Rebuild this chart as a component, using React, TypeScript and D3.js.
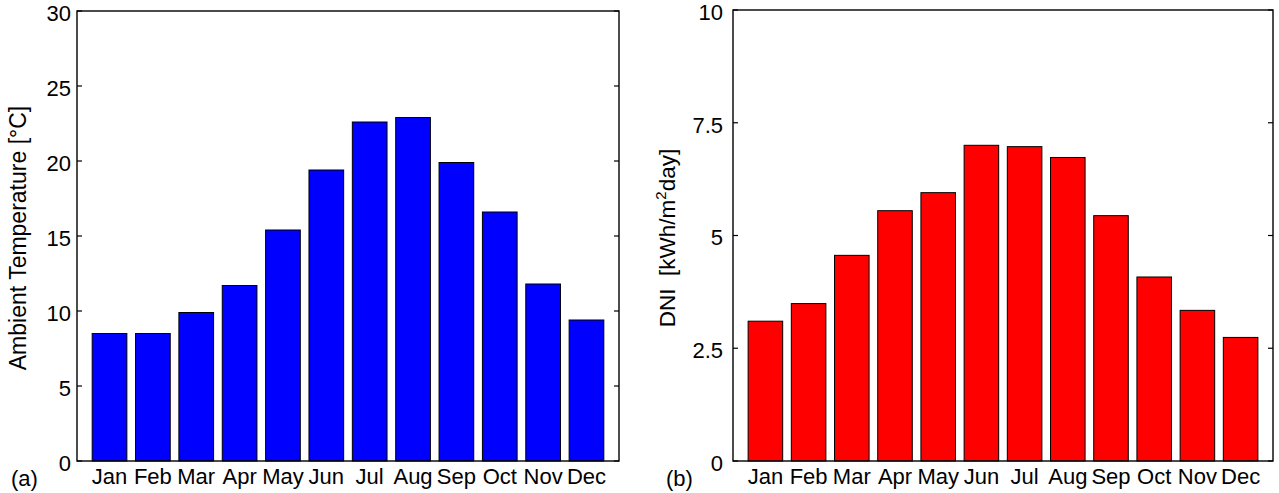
import React from "react";
import * as d3 from "d3";

const months = ["Jan", "Feb", "Mar", "Apr", "May", "Jun", "Jul", "Aug", "Sep", "Oct", "Nov", "Dec"];
const temperature = [8.5, 8.5, 9.9, 11.7, 15.4, 19.4, 22.6, 22.9, 19.9, 16.6, 11.8, 9.4];
const dni = [3.1, 3.49, 4.56, 5.55, 5.95, 7.0, 6.97, 6.73, 5.44, 4.08, 3.34, 2.74];
const tempTicks = [0, 5, 10, 15, 20, 25, 30];
const dniTicks = [0, 2.5, 5, 7.5, 10];

const FONT = "'Liberation Sans', Arial, sans-serif";

type PanelProps = {
  left: number;
  right: number;
  top: number;
  bottom: number;
  values: number[];
  yMax: number;
  ticks: number[];
  color: string;
  tag: string;
  tagX: number;
  tickGap: number;
  labelX: number;
  labelY: number;
  labelSize: number;
  label: React.ReactNode;
};

function Panel(p: PanelProps) {
  const { left, right, top, bottom, values, yMax, ticks, color } = p;
  const x = d3.scaleLinear().domain([0.25, 12.75]).range([left, right]);
  const y = d3.scaleLinear().domain([0, yMax]).range([bottom, top]);
  const bw = x(0.8) - x(0);
  const tickLen = 5;

  return (
    <g>
      {values.map((v, i) => (
        <rect
          key={months[i]}
          x={x(i + 1) - bw / 2}
          y={y(v)}
          width={bw}
          height={y(0) - y(v)}
          fill={color}
          stroke="#000"
          strokeWidth={1}
        />
      ))}
      <rect x={left} y={top} width={right - left} height={bottom - top} fill="none" stroke="#000" strokeWidth={1.4} />
      {ticks.map((t) => (
        <g key={t}>
          <line x1={left} x2={left + tickLen} y1={y(t)} y2={y(t)} stroke="#000" strokeWidth={1.2} />
          <line x1={right} x2={right - tickLen} y1={y(t)} y2={y(t)} stroke="#000" strokeWidth={1.2} />
          <text x={left - p.tickGap} y={y(t) + 2} dy="0.36em" textAnchor="end" fontSize={22} fontFamily={FONT}>
            {String(t)}
          </text>
        </g>
      ))}
      {months.map((m, i) => (
        <text key={m} x={x(i + 1)} y={484} textAnchor="middle" fontSize={22} fontFamily={FONT}>
          {m}
        </text>
      ))}
      <text x={p.tagX} y={486} fontSize={22} fontFamily={FONT}>
        {p.tag}
      </text>
      <text
        transform={`translate(${p.labelX},${p.labelY}) rotate(-90)`}
        textAnchor="middle"
        fontSize={p.labelSize}
        fontFamily={FONT}
      >
        {p.label}
      </text>
    </g>
  );
}

export default function App() {
  return (
    <div style={{ position: "absolute", left: 0, top: 0 }}>
      <svg width={1279} height={493} style={{ display: "block", background: "#fff" }}>
        <Panel
          left={77}
          right={619}
          top={11}
          bottom={461}
          values={temperature}
          yMax={30}
          ticks={tempTicks}
          color="#0000ff"
          tag="(a)"
          tagX={11}
          tickGap={6}
          labelX={26}
          labelY={238}
          labelSize={23}
          label="Ambient Temperature [°C]"
        />
        <Panel
          left={733}
          right={1273}
          top={10}
          bottom={461}
          values={dni}
          yMax={10}
          ticks={dniTicks}
          color="#ff0000"
          tag="(b)"
          tagX={666}
          tickGap={10}
          labelX={675}
          labelY={238}
          labelSize={22.5}
          label={
            <>
              <tspan>{"DNI\u00a0\u00a0[kWh/m"}</tspan>
              <tspan dy={-9} fontSize={15}>2</tspan>
              <tspan dy={9}>day]</tspan>
            </>
          }
        />
      </svg>
    </div>
  );
}
